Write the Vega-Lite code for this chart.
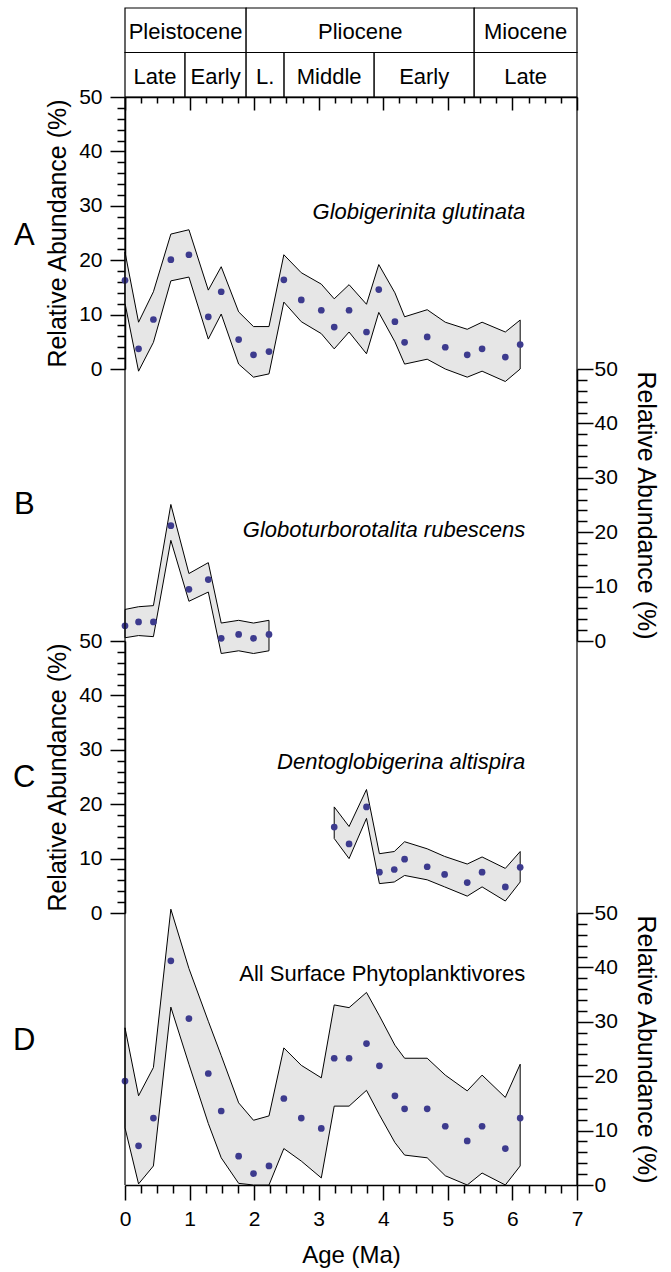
{
  "$schema": "https://vega.github.io/schema/vega-lite/v6.json",
  "padding": {"left": 13, "top": 7, "right": 5, "bottom": 2},
  "spacing": 0,
  "bounds": "flush",
  "config": {
    "font": "Liberation Sans",
    "view": {"stroke": null},
    "axis": {"labelFontSize": 21, "titleFontSize": 25, "titleFontWeight": "normal", "labelColor": "black", "titleColor": "black", "tickColor": "black", "domainColor": "black", "grid": false, "labelOverlap": false, "labelFlush": false, "tickWidth": 1.5, "domainWidth": 1.5, "tickCount": 100, "format": "d"}
  },
  "datasets": {
    "one": [{"k": 1}],
    "ts": [
      {"id": 1, "name": "Pleistocene", "row": "epoch", "start": 0, "end": 1.876},
      {"id": 2, "name": "Pliocene", "row": "epoch", "start": 1.876, "end": 5.408},
      {"id": 3, "name": "Miocene", "row": "epoch", "start": 5.408, "end": 7},
      {"id": 4, "name": "Late", "row": "sub", "start": 0, "end": 0.93},
      {"id": 5, "name": "Early", "row": "sub", "start": 0.93, "end": 1.876},
      {"id": 6, "name": "L.", "row": "sub", "start": 1.876, "end": 2.464},
      {"id": 7, "name": "Middle", "row": "sub", "start": 2.464, "end": 3.859},
      {"id": 8, "name": "Early", "row": "sub", "start": 3.859, "end": 5.408},
      {"id": 9, "name": "Late", "row": "sub", "start": 5.408, "end": 7}
    ],
    "ga": [
      {"age": 0.00, "value": 16.3, "lo": 12.1, "hi": 21.5},
      {"age": 0.21, "value": 3.7, "lo": -0.4, "hi": 8.6},
      {"age": 0.44, "value": 9.1, "lo": 4.9, "hi": 14.2},
      {"age": 0.71, "value": 20.1, "lo": 16.2, "hi": 24.8},
      {"age": 0.99, "value": 21.0, "lo": 16.9, "hi": 25.6},
      {"age": 1.29, "value": 9.6, "lo": 5.5, "hi": 14.5},
      {"age": 1.49, "value": 14.2, "lo": 10.1, "hi": 18.8},
      {"age": 1.76, "value": 5.4, "lo": 0.9, "hi": 10.5},
      {"age": 1.99, "value": 2.6, "lo": -1.5, "hi": 7.8},
      {"age": 2.23, "value": 3.2, "lo": -0.9, "hi": 7.8},
      {"age": 2.46, "value": 16.4, "lo": 12.3, "hi": 21.0},
      {"age": 2.73, "value": 12.7, "lo": 8.7, "hi": 17.7},
      {"age": 3.04, "value": 10.8, "lo": 6.5, "hi": 15.6},
      {"age": 3.24, "value": 7.7, "lo": 3.7, "hi": 12.9},
      {"age": 3.47, "value": 10.8, "lo": 6.8, "hi": 15.5},
      {"age": 3.74, "value": 6.8, "lo": 2.8, "hi": 11.9},
      {"age": 3.93, "value": 14.6, "lo": 10.4, "hi": 19.2},
      {"age": 4.18, "value": 8.7, "lo": 5.0, "hi": 14.0},
      {"age": 4.33, "value": 4.9, "lo": 0.9, "hi": 9.6},
      {"age": 4.68, "value": 5.9, "lo": 1.8, "hi": 10.9},
      {"age": 4.96, "value": 4.0, "lo": 0.0, "hi": 8.6},
      {"age": 5.30, "value": 2.6, "lo": -1.5, "hi": 7.3},
      {"age": 5.53, "value": 3.7, "lo": -0.4, "hi": 8.6},
      {"age": 5.89, "value": 2.2, "lo": -2.3, "hi": 6.8},
      {"age": 6.12, "value": 4.5, "lo": 0.0, "hi": 9.0}
    ],
    "gr": [
      {"age": 0.00, "value": 2.8, "lo": 0.6, "hi": 5.8},
      {"age": 0.21, "value": 3.5, "lo": 1.0, "hi": 6.3},
      {"age": 0.44, "value": 3.5, "lo": 0.8, "hi": 6.5},
      {"age": 0.71, "value": 21.2, "lo": 18.5, "hi": 25.1},
      {"age": 0.99, "value": 9.5, "lo": 7.3, "hi": 12.4},
      {"age": 1.29, "value": 11.3, "lo": 9.0, "hi": 14.4},
      {"age": 1.49, "value": 0.5, "lo": -2.3, "hi": 3.3},
      {"age": 1.76, "value": 1.2, "lo": -1.8, "hi": 3.8},
      {"age": 1.99, "value": 0.5, "lo": -2.3, "hi": 3.3},
      {"age": 2.23, "value": 1.2, "lo": -1.8, "hi": 3.8}
    ],
    "da": [
      {"age": 3.24, "value": 15.8, "lo": 13.7, "hi": 19.5},
      {"age": 3.47, "value": 12.7, "lo": 10.0, "hi": 15.9},
      {"age": 3.74, "value": 19.5, "lo": 17.4, "hi": 22.7},
      {"age": 3.94, "value": 7.5, "lo": 5.4, "hi": 10.9},
      {"age": 4.17, "value": 8.0, "lo": 5.7, "hi": 11.3},
      {"age": 4.33, "value": 9.9, "lo": 6.9, "hi": 13.1},
      {"age": 4.68, "value": 8.5, "lo": 6.1, "hi": 11.8},
      {"age": 4.95, "value": 7.1, "lo": 4.8, "hi": 10.4},
      {"age": 5.30, "value": 5.6, "lo": 3.1, "hi": 9.0},
      {"age": 5.53, "value": 7.5, "lo": 4.8, "hi": 10.3},
      {"age": 5.89, "value": 4.8, "lo": 2.2, "hi": 8.2},
      {"age": 6.12, "value": 8.4, "lo": 5.7, "hi": 11.3}
    ],
    "sp": [
      {"age": 0.00, "value": 19.1, "lo": 10.5, "hi": 28.9},
      {"age": 0.21, "value": 7.2, "lo": 0.2, "hi": 16.4},
      {"age": 0.44, "value": 12.3, "lo": 3.5, "hi": 21.6},
      {"age": 0.71, "value": 41.2, "lo": 32.7, "hi": 50.7},
      {"age": 0.99, "value": 30.6, "lo": 22.2, "hi": 39.8},
      {"age": 1.29, "value": 20.5, "lo": 11.3, "hi": 30.1},
      {"age": 1.49, "value": 13.6, "lo": 5.0, "hi": 23.8},
      {"age": 1.76, "value": 5.3, "lo": 0.3, "hi": 15.1},
      {"age": 1.99, "value": 2.1, "lo": 0.0, "hi": 11.9},
      {"age": 2.23, "value": 3.5, "lo": 0.0, "hi": 12.7},
      {"age": 2.46, "value": 15.9, "lo": 6.7, "hi": 25.2},
      {"age": 2.73, "value": 12.3, "lo": 4.4, "hi": 22.0},
      {"age": 3.04, "value": 10.4, "lo": 1.3, "hi": 19.7},
      {"age": 3.24, "value": 23.3, "lo": 14.5, "hi": 33.1},
      {"age": 3.47, "value": 23.3, "lo": 14.5, "hi": 32.6},
      {"age": 3.74, "value": 26.0, "lo": 17.4, "hi": 35.4},
      {"age": 3.94, "value": 21.9, "lo": 12.9, "hi": 31.1},
      {"age": 4.18, "value": 16.4, "lo": 7.8, "hi": 25.7},
      {"age": 4.33, "value": 14.0, "lo": 5.5, "hi": 23.3},
      {"age": 4.68, "value": 14.0, "lo": 5.0, "hi": 23.3},
      {"age": 4.96, "value": 10.8, "lo": 1.7, "hi": 20.2},
      {"age": 5.30, "value": 8.1, "lo": 0.0, "hi": 17.3},
      {"age": 5.53, "value": 10.8, "lo": 2.2, "hi": 20.2},
      {"age": 5.89, "value": 6.7, "lo": 0.0, "hi": 16.1},
      {"age": 6.12, "value": 12.3, "lo": 3.5, "hi": 22.2}
    ]
  },
  "resolve": {"scale": {"x": "independent", "y": "independent"}},
  "vconcat": [
    {
      "width": 452, "height": 89,
      "data": {"name": "ts"},
      "layer": [
        {
          "mark": {"type": "rect", "fill": "white", "stroke": "black", "strokeWidth": 1.2},
          "encoding": {
            "x": {"field": "start", "type": "quantitative", "scale": {"domain": [0, 7], "nice": false, "zero": false}, "axis": null},
            "x2": {"field": "end"},
            "y": {"field": "row", "type": "nominal", "scale": {"domain": ["epoch", "sub"], "paddingInner": 0, "paddingOuter": 0}, "axis": null}
          }
        },
        {
          "transform": [
            {"fold": ["start", "end"], "as": ["k", "age"]},
            {"aggregate": [{"op": "mean", "field": "age", "as": "mid"}], "groupby": ["id", "name", "row"]}
          ],
          "mark": {"type": "text", "fontSize": 22, "baseline": "middle", "dy": 2, "color": "black"},
          "encoding": {
            "x": {"field": "mid", "type": "quantitative", "axis": null},
            "y": {"field": "row", "type": "nominal", "axis": null},
            "text": {"field": "name"}
          }
        }
      ]
    },
    {
      "width": 452, "height": 272,
      "layer": [
        {
          "data": {"name": "ga"},
          "mark": {"type": "area", "fill": "#e6e6e6", "fillOpacity": 1, "stroke": "black", "strokeWidth": 1},
          "encoding": {
            "x": {"field": "age", "type": "quantitative", "scale": {"domain": [0, 7], "nice": false, "zero": false},
              "axis": {"orient": "top", "values": [0,0.25,0.5,0.75,1,1.25,1.5,1.75,2,2.25,2.5,2.75,3,3.25,3.5,3.75,4,4.25,4.5,4.75,5,5.25,5.5,5.75,6,6.25,6.5,6.75,7], "labels": false, "title": null,
                "tickSize": {"condition": {"test": "datum.value % 1 === 0", "value": -13}, "value": -6}}},
            "y": {"field": "lo", "type": "quantitative", "scale": {"domain": [0, 50], "nice": false, "zero": false},
              "axis": {"orient": "left", "values": [0,2,4,6,8,10,12,14,16,18,20,22,24,26,28,30,32,34,36,38,40,42,44,46,48,50], "title": "Relative Abundance (%)",
                "tickSize": {"condition": {"test": "datum.value % 10 === 0", "value": 15}, "value": 8},
                "labelExpr": "datum.value % 10 === 0 ? datum.label : ''", "labelPadding": 8, "titlePadding": 8}},
            "y2": {"field": "hi"}
          }
        },
        {"data": {"name": "ga"}, "mark": {"type": "point", "filled": true, "size": 45, "color": "#3d3b8e", "opacity": 1},
          "encoding": {"x": {"field": "age", "type": "quantitative"}, "y": {"field": "value", "type": "quantitative"}}},
        {"data": {"name": "one"}, "mark": {"type": "rule", "color": "black", "strokeWidth": 1.2}, "encoding": {"x": {"datum": 0}}},
        {"data": {"name": "one"}, "mark": {"type": "rule", "color": "black", "strokeWidth": 1.2}, "encoding": {"x": {"datum": 7}}},
        {"data": {"name": "one"}, "mark": {"type": "text", "text": "Globigerinita glutinata", "fontStyle": "italic", "fontSize": 22, "align": "right", "baseline": "middle", "color": "black"},
          "encoding": {"x": {"datum": 6.2}, "y": {"datum": 28.8}}},
        {"data": {"name": "one"}, "mark": {"type": "text", "text": "A", "fontSize": 31, "align": "center", "baseline": "middle", "color": "black"},
          "encoding": {"x": {"datum": -1.56}, "y": {"datum": 24.5}}}
      ]
    },
    {
      "width": 452, "height": 272,
      "layer": [
        {
          "data": {"name": "gr"},
          "mark": {"type": "area", "fill": "#e6e6e6", "fillOpacity": 1, "stroke": "black", "strokeWidth": 1},
          "encoding": {
            "x": {"field": "age", "type": "quantitative", "scale": {"domain": [0, 7], "nice": false, "zero": false}, "axis": null},
            "y": {"field": "lo", "type": "quantitative", "scale": {"domain": [0, 50], "nice": false, "zero": false},
              "axis": {"orient": "right", "values": [0,2,4,6,8,10,12,14,16,18,20,22,24,26,28,30,32,34,36,38,40,42,44,46,48,50], "title": "Relative Abundance (%)",
                "tickSize": {"condition": {"test": "datum.value % 10 === 0", "value": 16}, "value": 10},
                "labelExpr": "datum.value % 10 === 0 ? datum.label : ''", "labelPadding": 1, "titlePadding": 15}},
            "y2": {"field": "hi"}
          }
        },
        {"data": {"name": "gr"}, "mark": {"type": "point", "filled": true, "size": 45, "color": "#3d3b8e", "opacity": 1},
          "encoding": {"x": {"field": "age", "type": "quantitative"}, "y": {"field": "value", "type": "quantitative"}}},
        {"data": {"name": "one"}, "mark": {"type": "rule", "color": "black", "strokeWidth": 1.2}, "encoding": {"x": {"datum": 0}}},
        {"data": {"name": "one"}, "mark": {"type": "rule", "color": "black", "strokeWidth": 1.2}, "encoding": {"x": {"datum": 7}}},
        {"data": {"name": "one"}, "mark": {"type": "text", "text": "Globoturborotalita rubescens", "fontStyle": "italic", "fontSize": 22, "align": "right", "baseline": "middle", "color": "black"},
          "encoding": {"x": {"datum": 6.2}, "y": {"datum": 20.4}}},
        {"data": {"name": "one"}, "mark": {"type": "text", "text": "B", "fontSize": 31, "align": "center", "baseline": "middle", "color": "black"},
          "encoding": {"x": {"datum": -1.56}, "y": {"datum": 25}}}
      ]
    },
    {
      "width": 452, "height": 272,
      "layer": [
        {
          "data": {"name": "da"},
          "mark": {"type": "area", "fill": "#e6e6e6", "fillOpacity": 1, "stroke": "black", "strokeWidth": 1},
          "encoding": {
            "x": {"field": "age", "type": "quantitative", "scale": {"domain": [0, 7], "nice": false, "zero": false}, "axis": null},
            "y": {"field": "lo", "type": "quantitative", "scale": {"domain": [0, 50], "nice": false, "zero": false},
              "axis": {"orient": "left", "values": [0,2,4,6,8,10,12,14,16,18,20,22,24,26,28,30,32,34,36,38,40,42,44,46,48,50], "title": "Relative Abundance (%)",
                "tickSize": {"condition": {"test": "datum.value % 10 === 0", "value": 15}, "value": 8},
                "labelExpr": "datum.value % 10 === 0 ? datum.label : ''", "labelPadding": 8, "titlePadding": 8}},
            "y2": {"field": "hi"}
          }
        },
        {"data": {"name": "da"}, "mark": {"type": "point", "filled": true, "size": 45, "color": "#3d3b8e", "opacity": 1},
          "encoding": {"x": {"field": "age", "type": "quantitative"}, "y": {"field": "value", "type": "quantitative"}}},
        {"data": {"name": "one"}, "mark": {"type": "rule", "color": "black", "strokeWidth": 1.2}, "encoding": {"x": {"datum": 0}}},
        {"data": {"name": "one"}, "mark": {"type": "rule", "color": "black", "strokeWidth": 1.2}, "encoding": {"x": {"datum": 7}}},
        {"data": {"name": "one"}, "mark": {"type": "text", "text": "Dentoglobigerina altispira", "fontStyle": "italic", "fontSize": 22, "align": "right", "baseline": "middle", "color": "black"},
          "encoding": {"x": {"datum": 6.2}, "y": {"datum": 27.8}}},
        {"data": {"name": "one"}, "mark": {"type": "text", "text": "C", "fontSize": 31, "align": "center", "baseline": "middle", "color": "black"},
          "encoding": {"x": {"datum": -1.56}, "y": {"datum": 24.9}}}
      ]
    },
    {
      "width": 452, "height": 272,
      "layer": [
        {
          "data": {"name": "sp"},
          "mark": {"type": "area", "fill": "#e6e6e6", "fillOpacity": 1, "stroke": "black", "strokeWidth": 1},
          "encoding": {
            "x": {"field": "age", "type": "quantitative", "scale": {"domain": [0, 7], "nice": false, "zero": false},
              "axis": {"orient": "bottom", "values": [0,0.25,0.5,0.75,1,1.25,1.5,1.75,2,2.25,2.5,2.75,3,3.25,3.5,3.75,4,4.25,4.5,4.75,5,5.25,5.5,5.75,6,6.25,6.5,6.75,7], "title": "Age (Ma)", "titleFontSize": 24,
                "tickSize": {"condition": {"test": "datum.value % 1 === 0", "value": 15}, "value": 8},
                "labelExpr": "datum.value % 1 === 0 ? datum.label : ''", "labelPadding": 8, "titlePadding": 14}},
            "y": {"field": "lo", "type": "quantitative", "scale": {"domain": [0, 50], "nice": false, "zero": false},
              "axis": {"orient": "right", "values": [0,2,4,6,8,10,12,14,16,18,20,22,24,26,28,30,32,34,36,38,40,42,44,46,48,50], "title": "Relative Abundance (%)",
                "tickSize": {"condition": {"test": "datum.value % 10 === 0", "value": 16}, "value": 10},
                "labelExpr": "datum.value % 10 === 0 ? datum.label : ''", "labelPadding": 1, "titlePadding": 15}},
            "y2": {"field": "hi"}
          }
        },
        {"data": {"name": "sp"}, "mark": {"type": "point", "filled": true, "size": 45, "color": "#3d3b8e", "opacity": 1},
          "encoding": {"x": {"field": "age", "type": "quantitative"}, "y": {"field": "value", "type": "quantitative"}}},
        {"data": {"name": "one"}, "mark": {"type": "rule", "color": "black", "strokeWidth": 1.2}, "encoding": {"x": {"datum": 0}}},
        {"data": {"name": "one"}, "mark": {"type": "rule", "color": "black", "strokeWidth": 1.2}, "encoding": {"x": {"datum": 7}}},
        {"data": {"name": "one"}, "mark": {"type": "text", "text": "All Surface Phytoplanktivores", "fontSize": 22, "align": "right", "baseline": "middle", "color": "black"},
          "encoding": {"x": {"datum": 6.2}, "y": {"datum": 38.8}}},
        {"data": {"name": "one"}, "mark": {"type": "text", "text": "D", "fontSize": 31, "align": "center", "baseline": "middle", "color": "black"},
          "encoding": {"x": {"datum": -1.56}, "y": {"datum": 26.5}}}
      ]
    }
  ]
}
